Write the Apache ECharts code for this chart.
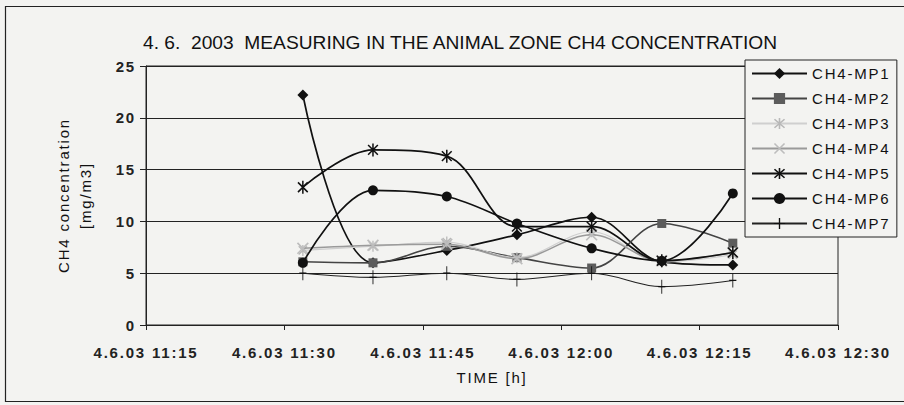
<!DOCTYPE html>
<html><head><meta charset="utf-8">
<script src="https://cdn.jsdelivr.net/npm/echarts@6/dist/echarts.min.js"></script>
<style>
html,body{margin:0;padding:0;background:#f3f3f1;}
#c{width:904px;height:405px;letter-spacing:1.8px;}
#c text[style*="Narrow"], #c text[font-family*="Narrow"]{letter-spacing:0;}
</style></head><body><div id="c"></div>
<script>
// Sample times (clock time on 4.6.2003)
const times = ['11:32:00','11:39:36','11:47:36','11:55:12','12:03:18','12:10:54','12:18:36'];
const axisStart = '11:15';
const xTickLabels = ['4.6.03 11:15','4.6.03 11:30','4.6.03 11:45','4.6.03 12:00','4.6.03 12:15','4.6.03 12:30'];
const yTicks = [0, 5, 10, 15, 20, 25];
const seriesNames = ['CH4-MP1','CH4-MP2','CH4-MP3','CH4-MP4','CH4-MP5','CH4-MP6','CH4-MP7'];
const mp1 = [22.2, 6.0, 7.2, 8.7, 10.4, 6.1, 5.8];
const mp2 = [6.1, 6.0, 7.6, 6.5, 5.5, 9.8, 7.9];
const mp3 = [7.2, 7.6, 8.0, 6.5, 9.0, 6.1, 6.8];
const mp4 = [7.4, 7.7, 7.8, 6.4, 8.7, 6.2, 7.0];
const mp5 = [13.3, 16.9, 16.3, 9.5, 9.5, 6.2, 7.0];
const mp6 = [6.0, 13.0, 12.4, 9.8, 7.4, 6.2, 12.7];
const mp7 = [5.0, 4.6, 5.0, 4.4, 5.0, 3.7, 4.3];

function toMin(t){ const p=t.split(':').map(Number); return p[0]*60+p[1]+(p[2]||0)/60; }
const t0 = toMin(axisStart);
const xs = times.map(t => toMin(t) - t0);
const pairs = arr => arr.map((v,i)=>[xs[i], v]);

const SYM_X = 'path://M0,1 L1,0 L10,9 L9,10 Z M9,0 L10,1 L1,10 L0,9 Z';
const SYM_AST = 'path://M0,1 L1,0 L10,9 L9,10 Z M9,0 L10,1 L1,10 L0,9 Z M4.3,-1 L5.7,-1 L5.7,11 L4.3,11 Z';
const SYM_PLUS = 'path://M4.4,0 L5.6,0 L5.6,14 L4.4,14 Z M0,6.4 L10,6.4 L10,7.6 L0,7.6 Z';

const styles = [
  {data: mp1, color:'#111', line:'#111', w:1.7, symbol:'diamond', size:11},
  {data: mp2, color:'#5c5c5c', line:'#444', w:1.6, symbol:'rect', size:9},
  {data: mp3, color:'#b8b8b8', line:'#cfcfcf', w:1.2, symbol:SYM_AST, size:11},
  {data: mp4, color:'#bdbdbd', line:'#9a9a9a', w:1.5, symbol:SYM_X, size:12},
  {data: mp5, color:'#111', line:'#111', w:1.7, symbol:SYM_AST, size:13},
  {data: mp6, color:'#111', line:'#111', w:1.7, symbol:'circle', size:10},
  {data: mp7, color:'#111', line:'#222', w:1.1, symbol:SYM_PLUS, size:[10,14]}
];

const FONT = 'Liberation Sans, Arial, sans-serif';
const chart = echarts.init(document.getElementById('c'), null, {renderer:'svg'});
chart.setOption({
  backgroundColor: '#f3f3f1',
  animation: false,
  title: {
    text: '4. 6.  2003  MEASURING IN THE ANIMAL ZONE CH4 CONCENTRATION',
    left: 143, top: 33, padding: 0,
    textStyle: {fontFamily: '"Liberation Sans Narrow", "Arial Narrow", sans-serif', fontSize: 19.2, fontWeight: 'normal', color: '#111'}
  },
  graphic: [
    {type:'rect', shape:{x:5.5, y:6.5, width:920, height:395}, style:{fill:'none', stroke:'#222', lineWidth:1.2}, silent:true, z:-1}
  ],
  legend: {
    orient: 'vertical', left: 745, top: 60,
    padding: [6,19,6,6], itemGap: 10, itemWidth: 55, itemHeight: 14,
    backgroundColor: '#f3f3f1', borderColor: '#222', borderWidth: 1,
    textStyle: {fontFamily: FONT, fontSize: 15, color: '#111'},
    data: seriesNames
  },
  grid: {left: 146, right: 66, top: 66, bottom: 80, show: true, borderColor: '#222', borderWidth: 1, backgroundColor: 'transparent'},
  xAxis: {
    type: 'value', min: 0, max: 75, interval: 15,
    axisLine: {show: true, lineStyle: {color: '#222', width: 1}},
    axisTick: {show: true, length: 5, lineStyle: {color: '#222'}},
    splitLine: {show: false},
    axisLabel: {margin: 20, fontFamily: FONT, fontSize: 15, fontWeight: 'bold', color: '#222',
      formatter: v => xTickLabels[Math.round(v/15)] || ''},
    name: 'TIME [h]', nameLocation: 'middle', nameGap: 45,
    nameTextStyle: {fontFamily: FONT, fontSize: 15, color: '#111'}
  },
  yAxis: {
    type: 'value', min: yTicks[0], max: yTicks[yTicks.length-1], interval: 5,
    axisLine: {show: true, lineStyle: {color: '#222', width: 1}},
    axisTick: {show: true, length: 6, lineStyle: {color: '#222'}},
    splitLine: {show: true, lineStyle: {color: '#222', width: 1}},
    axisLabel: {margin: 10, fontFamily: FONT, fontSize: 15, fontWeight: 'bold', color: '#222'},
    name: 'CH4 concentration\n[mg/m3]', nameLocation: 'middle', nameGap: 50,
    nameTextStyle: {fontFamily: FONT, fontSize: 15, color: '#111', lineHeight: 22}
  },
  series: styles.map((s,i) => ({
    name: seriesNames[i], type: 'line', smooth: 0.35,
    data: pairs(s.data),
    symbol: s.symbol, symbolSize: s.size, symbolKeepAspect: true,
    itemStyle: {color: s.color, borderWidth: 0},
    lineStyle: {color: s.line, width: s.w},
    z: 3 + i
  }))
});
</script></body></html>
